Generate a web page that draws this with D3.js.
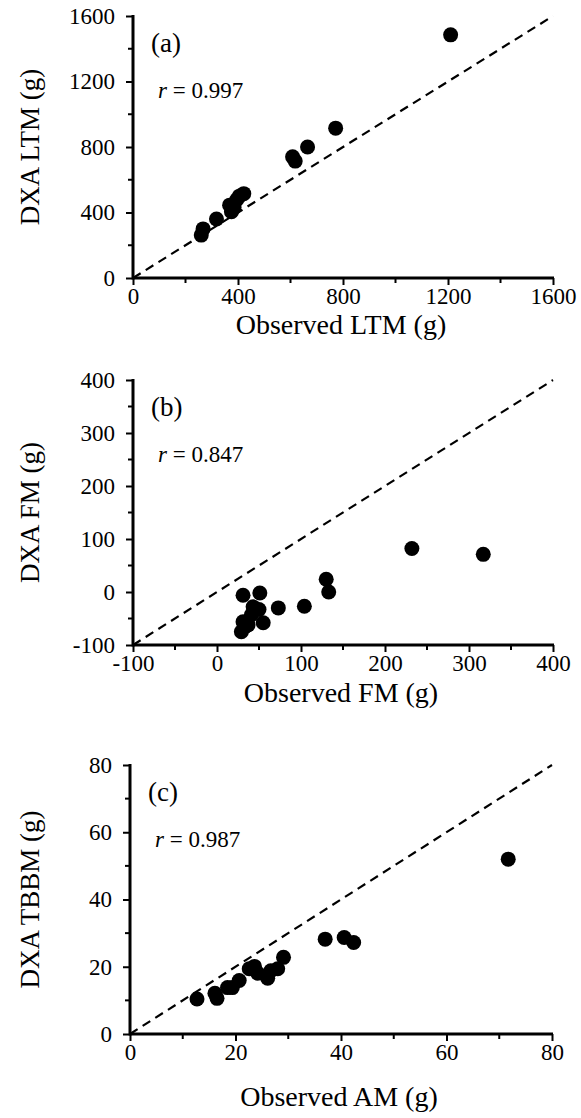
<!DOCTYPE html>
<html>
<head>
<meta charset="utf-8">
<script src="https://cdn.jsdelivr.net/npm/d3@7"></script>
<style>
  body { margin: 0; background: #fff; }
  svg { display: block; }
  text { font-family: "Liberation Serif", "Times New Roman", serif; fill: #000; }
</style>
</head>
<body>
<svg id="chart" width="581" height="1118"></svg>
<script>
// panel (a) lean tissue mass
const obsLTM = [260, 267, 318, 375, 368, 385, 395, 405, 422, 608, 618, 665, 772, 1210];
const dxaLTM = [262, 300, 360, 405, 445, 430, 478, 500, 515, 740, 714, 800, 915, 1485];
// panel (b) fat mass
const obsFM = [29, 31, 33, 37, 41, 43, 50, 51, 55, 31, 73, 104, 130, 133, 232, 317];
const dxaFM = [-75, -56, -66, -62, -43, -28, -33, -2, -58, -6, -30, -27, 24, 0, 82, 71];
// panel (c) ash / bone mass
const obsAM = [12.7, 16.1, 16.5, 18.5, 19.4, 20.7, 22.6, 23.6, 24.2, 26.1, 26.7, 28.0, 29.1, 37.0, 40.6, 42.4, 71.7];
const dxaAM = [10.4, 12.1, 10.6, 13.8, 13.8, 15.9, 19.4, 20.1, 18.1, 16.6, 18.8, 19.4, 22.8, 28.2, 28.7, 27.2, 52.0];

const ticksLTM = [0, 400, 800, 1200, 1600];
const ticksFM = [-100, 0, 100, 200, 300, 400];
const ticksAM = [0, 20, 40, 60, 80];

const panels = [
  { tag: "(a)", r: "0.997", xTitle: "Observed LTM (g)", yTitle: "DXA LTM (g)",
    xs: obsLTM, ys: dxaLTM, ticks: ticksLTM,
    xr: [133, 553], yr: [278, 16], titleGap: 56 },
  { tag: "(b)", r: "0.847", xTitle: "Observed FM (g)", yTitle: "DXA FM (g)",
    xs: obsFM, ys: dxaFM, ticks: ticksFM,
    xr: [133, 553], yr: [645, 380], titleGap: 57 },
  { tag: "(c)", r: "0.987", xTitle: "Observed AM (g)", yTitle: "DXA TBBM (g)",
    xs: obsAM, ys: dxaAM, ticks: ticksAM,
    xr: [130, 552], yr: [1034, 765], titleGap: 72 }
];

const svg = d3.select("#chart");

panels.forEach(p => {
  const dom = [p.ticks[0], p.ticks[p.ticks.length - 1]];
  const x = d3.scaleLinear().domain(dom).range(p.xr);
  const y = d3.scaleLinear().domain(dom).range(p.yr);
  const step = p.ticks[1] - p.ticks[0];
  const minor = d3.range(dom[0] + step / 2, dom[1], step);

  const g = svg.append("g");

  // identity line
  g.append("line")
    .attr("x1", x(dom[0])).attr("y1", y(dom[0]))
    .attr("x2", x(dom[1])).attr("y2", y(dom[1]))
    .attr("stroke", "#000").attr("stroke-width", 2.2)
    .attr("stroke-dasharray", "9,6");

  // points
  g.selectAll("circle.pt")
    .data(d3.range(p.xs.length))
    .join("circle")
    .attr("class", "pt")
    .attr("cx", i => x(p.xs[i]))
    .attr("cy", i => y(p.ys[i]))
    .attr("r", 7.5)
    .attr("fill", "#000");

  // x axis
  const xAxis = d3.axisBottom(x).tickValues(p.ticks).tickFormat(d => String(d))
    .tickSize(7).tickPadding(3);
  const gx = g.append("g").attr("transform", `translate(0,${p.yr[0]})`).call(xAxis);
  gx.append("g").selectAll("line").data(minor).join("line")
    .attr("x1", d => x(d)).attr("x2", d => x(d)).attr("y1", 0).attr("y2", 5)
    .attr("stroke", "#000").attr("stroke-width", 2);

  // y axis
  const yAxis = d3.axisLeft(y).tickValues(p.ticks).tickFormat(d => String(d))
    .tickSize(7).tickPadding(11);
  const gy = g.append("g").attr("transform", `translate(${p.xr[0]},0)`).call(yAxis);
  gy.append("g").selectAll("line").data(minor).join("line")
    .attr("y1", d => y(d)).attr("y2", d => y(d)).attr("x1", 0).attr("x2", -5)
    .attr("stroke", "#000").attr("stroke-width", 2);

  [gx, gy].forEach(a => {
    a.select(".domain").remove();
    a.selectAll(".tick line").attr("stroke-width", 2);
    a.selectAll(".tick text").style("font-family", '"Liberation Serif", serif').style("font-size", "23px");
  });
  g.append("line")
    .attr("x1", p.xr[0]).attr("x2", p.xr[1] + 1).attr("y1", p.yr[0]).attr("y2", p.yr[0])
    .attr("stroke", "#000").attr("stroke-width", 3);
  g.append("line")
    .attr("x1", p.xr[0]).attr("x2", p.xr[0]).attr("y1", p.yr[0] + 1.5).attr("y2", p.yr[1] - 1)
    .attr("stroke", "#000").attr("stroke-width", 3);

  // labels
  g.append("text").attr("x", p.xr[0] + 18).attr("y", p.yr[1] + 36)
    .style("font-size", "27px").text(p.tag);
  const rt = g.append("text").attr("x", p.xr[0] + 25).attr("y", p.yr[1] + 82)
    .style("font-size", "23px");
  rt.append("tspan").style("font-style", "italic").text("r");
  rt.append("tspan").text(" = " + p.r);

  g.append("text")
    .attr("x", (p.xr[0] + p.xr[1]) / 2 - 2).attr("y", p.yr[0] + p.titleGap)
    .attr("text-anchor", "middle").style("font-size", "28px")
    .text(p.xTitle);
  g.append("text")
    .attr("transform", `translate(39,${(p.yr[0] + p.yr[1]) / 2}) rotate(-90)`)
    .attr("text-anchor", "middle").style("font-size", "27px")
    .text(p.yTitle);
});
</script>
</body>
</html>
